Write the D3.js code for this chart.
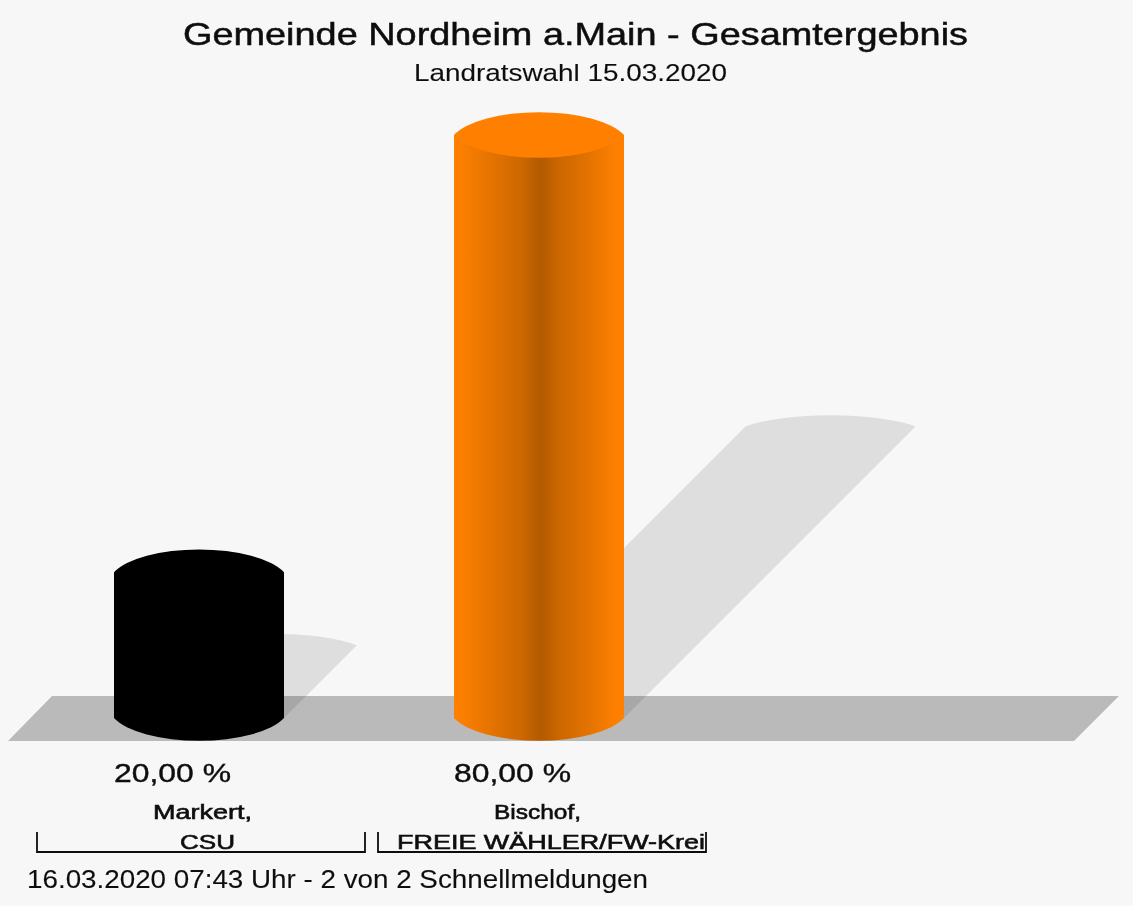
<!DOCTYPE html>
<html><head><meta charset="utf-8">
<script src="https://cdn.jsdelivr.net/npm/d3@7"></script>
<style>html,body{margin:0;padding:0;background:#f7f7f7}svg{display:block}text{font-family:"Liberation Sans",Arial,sans-serif;fill:#111}</style>
</head><body><svg id="c" width="1133" height="906"></svg>
<script>
const candidates = ["Markert","Bischof"];
const parties = ["CSU","FREIE WÄHLER/FW-Krei"];
const values = [20,80];
const valueLabels = ["20,00 %","80,00 %"];
const barColors = ["#000000","#ff8000"];
const barMid = ["#000000","#e27200"];
const barShade = ["#000000","#cc6700"];
const barDark = ["#000000","#b25a00"];
const title = "Gemeinde Nordheim a.Main - Gesamtergebnis";
const subtitle = "Landratswahl 15.03.2020";
const footer = "16.03.2020 07:43 Uhr - 2 von 2 Schnellmeldungen";

const svg = d3.select("#c");
const x = d3.scaleBand().domain(candidates).range([29,709]);
const y = d3.scaleLinear().domain([0,80]).range([718,135]);
const rx = 85;
const cx = c => x(c)+x.bandwidth()/2;

svg.append("rect").attr("width",1133).attr("height",906).attr("fill","#f7f7f7");
const defs = svg.append("defs");
defs.append("filter").attr("id","soft").attr("filterUnits","userSpaceOnUse")
  .attr("x",0).attr("y",0).attr("width",1133).attr("height",906)
  .append("feGaussianBlur").attr("stdDeviation",0.7);
const root = svg.append("g").attr("filter","url(#soft)");

// floor
const floorPts = [[8,741],[52,696],[1119,696],[1074,741]];
root.append("path").attr("d",d3.line()(floorPts)+"Z").attr("fill","#bababa");

// gradients
candidates.forEach((c,i)=>{
  const g = defs.append("linearGradient").attr("id","g"+i);
  [[2,barColors[i]],[24,barMid[i]],[40,barShade[i]],[51,barDark[i]],[62,barShade[i]],[78,barMid[i]],[96,barColors[i]]]
    .forEach(([o,col])=>g.append("stop").attr("offset",o+"%").attr("stop-color",col));
});

// shadows
candidates.forEach((c,i)=>{
  const base = y(0), top = y(values[i]), h=(base-top)/2, l=cx(c)-rx, r=cx(c)+rx;
  root.append("path")
    .attr("d",`M${l},${base}L${l+h},${base-h}A100,24 0 0 1 ${r+h},${base-h}L${r},${base}Z`)
    .attr("fill","#000").attr("fill-opacity",0.1);
});

// cylinders
candidates.forEach((c,i)=>{
  const base = y(0), top = y(values[i]), l=cx(c)-rx, r=cx(c)+rx;
  root.append("path")
    .attr("d",`M${l},${top}L${l},${base}A90,34 0 0 0 ${r},${base}L${r},${top}Z`)
    .attr("fill",`url(#g${i})`);
  root.append("path")
    .attr("d",`M${l},${top}A90,34 0 0 1 ${r},${top}A90,34 0 0 1 ${l},${top}Z`)
    .attr("fill",barColors[i]);
});

function label(t,x0,x1,yy,size,sw){
  root.append("text").attr("x",x0).attr("y",yy).attr("font-size",size)
    .attr("textLength",x1-x0).attr("lengthAdjust","spacingAndGlyphs")
    .attr("stroke","#111").attr("stroke-width",sw).text(t);
}
const valueSpan=[[114,231],[454,571]];
const nameSpan=[[153,252],[494,581]];
const partySpan=[[180,235],[397,705]];
const brackets=[[37,365],[378,706]];
candidates.forEach((c,i)=>{
  label(valueLabels[i],valueSpan[i][0],valueSpan[i][1],782,26,0.4);
  const [a,b]=brackets[i];
  root.append("path").attr("d",`M${a},832V852H${b}V832`).attr("fill","none").attr("stroke","#111").attr("stroke-width",1.8);
  label(c+",",nameSpan[i][0],nameSpan[i][1],819,20,0.6);
  label(parties[i],partySpan[i][0],partySpan[i][1],849,20,0.6);
});

label(title,183,968,45,32,0.5);
label(subtitle,414,727,81,24,0.1);
label(footer,27,648,888,25,0.1);
</script></body></html>
